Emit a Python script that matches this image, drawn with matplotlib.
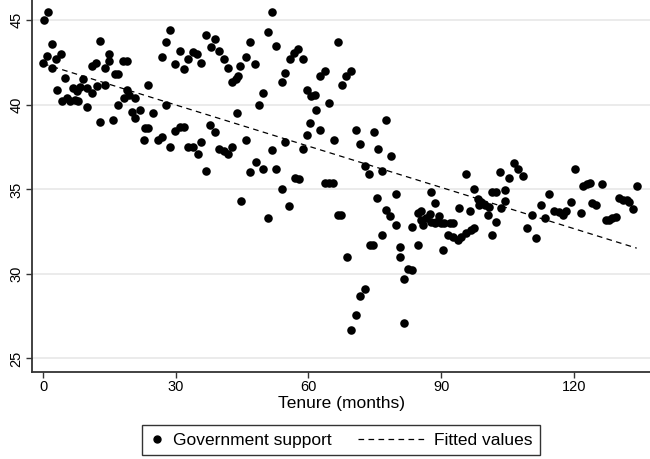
import matplotlib
matplotlib.use("Agg")
import matplotlib.pyplot as plt
from matplotlib.lines import Line2D
from matplotlib.legend_handler import HandlerBase
import numpy as np

plt.rcParams['font.family'] = ['Liberation Sans', 'DejaVu Sans']

tenure = [
    0.1, 1.1, 2.0, 1.0, 0.0, 2.9, 4.0, 2.0, 5.0, 3.1, 4.2, 5.3, 6.1, 7.2, 8.0, 6.8, 7.6, 8.3, 9.1, 9.9,
    11.0, 12.1, 10.0, 12.9, 15.0, 15.0, 14.0, 11.0, 12.0, 16.3, 17.0, 18.1, 19.0, 14.0, 12.9, 15.9, 17.0,
    18.9, 19.5, 18.3, 20.8, 20.0, 21.9, 20.8, 23.8, 24.9, 27.8, 23.0, 23.8, 22.8, 26.0, 26.8, 28.8, 29.9,
    30.9, 31.8, 32.8, 26.8, 27.9, 28.8, 29.8, 30.9, 31.8, 32.8, 33.8, 34.7, 35.8, 36.8, 38.8, 37.9, 39.8,
    40.9, 41.8, 42.8, 43.6, 44.1, 44.6, 45.8, 46.7, 47.8, 49.7, 48.8, 50.9, 51.8, 52.6, 53.9, 54.6, 55.8,
    56.7, 57.6, 58.8, 59.7, 33.9, 35.0, 35.8, 37.8, 38.8, 39.8, 40.9, 41.8, 42.8, 43.9, 36.8, 45.8, 46.7,
    48.2, 49.7, 52.6, 51.8, 54.6, 58.8, 59.7, 60.3, 53.9, 55.7, 44.7, 50.8, 56.9, 57.9, 66.7, 62.5, 63.7,
    67.6, 68.5, 69.5, 60.5, 61.4, 64.6, 61.6, 62.7, 65.7, 70.7, 71.6, 74.7, 77.6, 75.7, 78.7, 72.7, 73.7,
    76.7, 63.7, 64.6, 65.5, 75.5, 79.7, 87.7, 77.6, 78.5, 79.7, 76.7, 73.8, 74.6, 68.7, 80.6, 80.6, 84.7,
    82.4, 83.4, 81.7, 72.7, 71.7, 70.7, 69.7, 81.5, 66.6, 67.3, 88.5, 83.4, 84.7, 85.5, 85.5, 85.9, 86.6,
    87.4, 87.7, 88.5, 88.8, 89.6, 90.0, 90.7, 91.9, 92.6, 106.5, 107.3, 108.4, 105.4, 103.3, 95.5, 120.3,
    90.4, 91.5, 92.6, 93.7, 94.5, 95.6, 96.8, 97.5, 94.1, 96.4, 97.5, 98.3, 99.0, 98.5, 99.8, 100.5, 100.9,
    101.5, 102.4, 102.5, 101.5, 104.5, 104.5, 103.5, 114.4, 112.6, 113.5, 110.5, 109.3, 111.4, 115.6,
    116.7, 117.6, 118.2, 119.3, 122.0, 122.9, 123.6, 126.3, 134.2, 121.6, 124.2, 125.1, 127.2, 127.9,
    128.7, 129.5, 130.1, 131.0, 131.9, 132.5, 133.4,
]
support = [
    45.0, 45.5, 43.6, 42.9, 42.5, 42.7, 43.0, 42.2, 41.6, 40.9, 40.2, 40.4, 40.2, 40.3, 40.2, 41.0, 40.8, 41.05, 41.5, 41.0,
    40.7, 41.1, 39.9, 43.8, 43.0, 42.6, 42.2, 42.3, 42.5, 41.8, 41.8, 42.6, 42.6, 41.2, 39.0, 39.1, 40.0,
    40.9, 40.6, 40.4, 40.4, 39.6, 39.7, 39.2, 41.2, 39.5, 40.0, 38.65, 38.65, 37.9, 37.9, 38.1, 37.5, 38.45,
    38.7, 38.7, 37.5, 42.8, 43.7, 44.4, 42.4, 43.2, 42.1, 42.7, 43.1, 43.0, 42.5, 44.15, 43.9, 43.4, 43.2,
    42.7, 42.2, 41.35, 41.55, 41.7, 42.3, 42.8, 43.7, 42.4, 40.7, 40.0, 44.3, 45.5, 43.5, 41.35, 41.9, 42.7,
    43.07, 43.3, 42.7, 40.9, 37.5, 37.07, 37.8, 38.8, 38.4, 37.4, 37.27, 37.07, 37.5, 39.5, 36.1, 37.9, 36.0,
    36.6, 36.2, 36.2, 37.3, 37.8, 37.4, 38.2, 38.9, 35.04, 34.0, 34.3, 33.3, 35.7, 35.6, 43.7, 41.7, 42.0,
    41.2, 41.7, 42.0, 40.5, 40.6, 40.1, 39.7, 38.5, 37.9, 38.5, 37.7, 38.4, 39.1, 37.4, 37.0, 36.4, 35.9,
    36.1, 35.4, 35.4, 35.4, 34.5, 34.7, 34.84, 33.8, 33.4, 32.9, 32.3, 31.7, 31.7, 31.0, 31.6, 31.0, 31.7,
    30.3, 30.25, 29.7, 29.1, 28.7, 27.6, 26.7, 27.1, 33.5, 33.5, 34.2, 32.8, 33.6, 33.75, 33.2, 32.9, 33.3,
    33.55, 33.1, 33.0, 33.1, 33.4, 33.0, 33.0, 33.0, 33.0, 36.56, 36.2, 35.8, 35.7, 36.0, 35.9, 36.2,
    31.4, 32.3, 32.2, 32.0, 32.2, 32.4, 32.6, 32.7, 33.9, 33.7, 35.0, 34.45, 34.25, 34.05, 34.05, 33.46, 33.95,
    34.84, 34.84, 33.07, 32.28, 34.94, 34.3, 33.9, 34.74, 34.1, 33.3, 33.5, 32.7, 32.1, 33.75,
    33.65, 33.46, 33.75, 34.25, 35.2, 35.3, 35.37, 35.3, 35.2, 33.6, 34.2, 34.1, 33.2, 33.2,
    33.3, 33.36, 34.5, 34.4, 34.35, 34.25, 33.86,
]
x_ticks = [0, 30, 60, 90, 120]
y_ticks = [25, 30, 35, 40, 45]

x = np.array(tenure)
y = np.array(support)
slope, intercept = np.polyfit(x, y, 1)
xf = np.array([x.min(), x.max()])
yf = intercept + slope * xf

DASHES = (4.5, 3.5)


class LongDashHandler(HandlerBase):
    """Dashed legend line that extends to the left of the handle box."""
    def __init__(self, extra=38, **kw):
        super().__init__(**kw)
        self.extra = extra

    def create_artists(self, legend, orig_handle, xdescent, ydescent,
                       width, height, fontsize, trans):
        yc = height / 2 - ydescent
        line = Line2D([-xdescent - self.extra, width - xdescent], [yc, yc],
                      color='black', lw=0.9, dashes=DASHES)
        line.set_transform(trans)
        return [line]


fig = plt.figure(figsize=(6.5, 4.59), dpi=100)
ax = fig.add_axes([32/650, 1-372/459, 618/650, 372/459])

for t in y_ticks:
    ax.axhline(t, color='#e8e8e8', lw=1.2, zorder=0)

ax.scatter(x, y, s=38, color='black', marker='o', linewidths=0, zorder=3)
ax.plot(xf, yf, color='black', lw=0.9, dashes=DASHES, zorder=2)

ax.set_xlim(-2.5, 137.2)
ax.set_ylim(24.2, 46.2)
ax.set_xticks(x_ticks)
ax.set_yticks(y_ticks)
ax.set_xticklabels([str(t) for t in x_ticks], fontsize=10.5)
ax.set_yticklabels([str(t) for t in y_ticks], fontsize=10.5, rotation=90, va='center')
ax.tick_params(direction='out', length=4, width=1, color='#333333', pad=2)
for s in ['top', 'right']:
    ax.spines[s].set_visible(False)
for s in ['left', 'bottom']:
    ax.spines[s].set_color('#333333')
    ax.spines[s].set_linewidth(1.3)
ax.set_xlabel('Tenure (months)', fontsize=12.5, labelpad=1)

marker_handle = Line2D([], [], marker='o', color='black', linestyle='none', markersize=5)
fit_handle = Line2D([], [], color='black', lw=0.9, dashes=DASHES)
leg = fig.legend([marker_handle, fit_handle], ['Government support', 'Fitted values'],
                 loc='center', bbox_to_anchor=(341/650, 1-440/459), ncol=2,
                 frameon=True, fancybox=False, fontsize=12.5,
                 handlelength=0.9, columnspacing=4.6, handletextpad=0.45,
                 borderpad=0.4, edgecolor='black',
                 handler_map={fit_handle: LongDashHandler(extra=38)})
leg.get_frame().set_linewidth(1.0)

fig.savefig('out.png', dpi=100)
